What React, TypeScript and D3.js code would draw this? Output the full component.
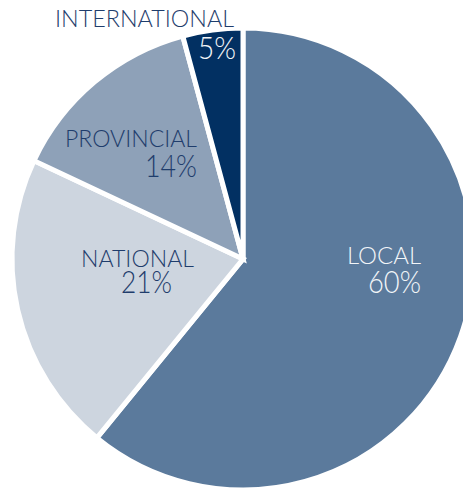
import React from "react";
import * as d3 from "d3";

const categories = ["LOCAL", "NATIONAL", "PROVINCIAL", "INTERNATIONAL"];
const shares = [60.9, 21.1, 13.8, 4.2];
const pctLabels = ["60%", "21%", "14%", "5%"];

const colors = ["#5b7a9c", "#cdd5df", "#8ea1b8", "#023062"];
const nameColors = ["#f2f5f8", "#1f3d6c", "#1f3d6c", "#1f3d6c"];
const pctColors = ["#f2f5f8", "#1f3d6c", "#1f3d6c", "#f2f5f8"];

// label layout: [name x, name baseline, name width, pct x, pct baseline, pct width]
const labelLayout = [
  [347, 264, 74, 368, 293, 53],
  [81, 267, 113, 121, 293, 51],
  [65, 147, 132, 145, 177, 52],
  [55, 27, 179, 198, 59, 38],
];

export default function App() {
  const W = 463, H = 489;
  const cx = 243, cy = 259, r = 231;
  const pie = d3.pie<number>().sort(null).value((d) => d)(shares);
  const arc = d3.arc<d3.PieArcDatum<number>>().innerRadius(0).outerRadius(r);
  const font = "Lato, 'Open Sans', sans-serif";
  return (
    <svg width={W} height={H} style={{ position: "absolute", left: 0, top: 0, background: "#fff" }}>
      <g transform={`translate(${cx},${cy})`}>
        {pie.map((p, i) => (
          <path key={i} d={arc(p) || ""} fill={colors[i]} stroke="#fff" strokeWidth={5} strokeLinejoin="miter" />
        ))}
      </g>
      {categories.map((c, i) => {
        const L = labelLayout[i];
        return (
          <g key={c} fontFamily={font} fontWeight={300}>
            <text x={L[0]} y={L[1]} fontSize={24} fill={nameColors[i]} textLength={L[2]} lengthAdjust="spacingAndGlyphs">{c}</text>
            <text x={L[3]} y={L[4]} fontSize={32} fill={pctColors[i]} textLength={L[5]} lengthAdjust="spacingAndGlyphs">{pctLabels[i]}</text>
          </g>
        );
      })}
    </svg>
  );
}
